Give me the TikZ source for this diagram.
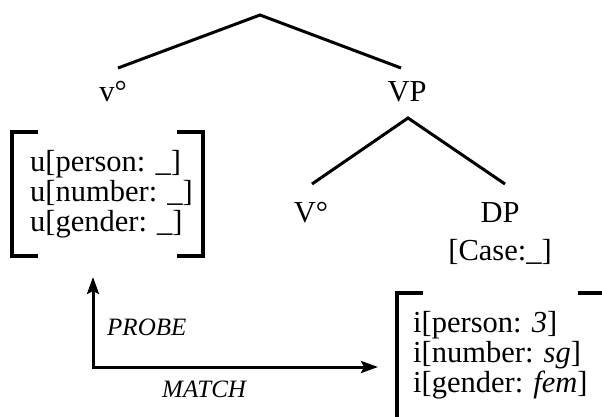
\documentclass[tikz,border=0pt]{standalone}
\usepackage{fontspec}
\setmainfont{Liberation Serif}
\usetikzlibrary{arrows.meta}
\tikzset{
  branch/.style={line width=3pt},
  brack/.style={line width=3.2pt},
  lab/.style={inner sep=0pt, anchor=base, font=\fontsize{30.5}{30}\selectfont},
  feat/.style={inner sep=0pt, anchor=base west, font=\fontsize{30.5}{30}\selectfont},
  arrowlab/.style={inner sep=0pt, anchor=base west, font=\fontsize{25}{25}\selectfont\itshape},
  relation/.style={line width=3pt, {Stealth[length=17pt,width=12pt,inset=3pt]}-{Stealth[length=17pt,width=12pt,inset=3pt]}}
}
\begin{document}
\begin{tikzpicture}[x=1pt,y=-1pt]
\useasboundingbox (0,0) rectangle (602,416);

% upper tree
\coordinate (root) at (260,15);
\coordinate (vEnd) at (118,68);
\coordinate (vpEnd) at (401,68);
\node[lab] (v) at (113,101) {v°};
\node[lab] (VP) at (407,101) {VP};
\draw[branch] (vEnd) -- (root) -- (vpEnd);

% lower tree
\coordinate (vpTop) at (408,118);
\coordinate (VEnd) at (312,184);
\coordinate (dpEnd) at (505,184);
\node[lab] (V) at (311,222) {V°};
\node[lab] (DP) at (500,222) {DP};
\node[lab] (case) at (500,260) {[Case:\_]};
\draw[branch] (VEnd) -- (vpTop) -- (dpEnd);

% uninterpretable features on v
\node[feat] (u1) at (30,171) {u[person: \_]};
\node[feat] (u2) at (30,201) {u[number: \_]};
\node[feat] (u3) at (30,231) {u[gender: \_]};
\draw[brack] (38,132) -- (12,132) -- (12,256) -- (38,256);
\draw[brack] (177,132) -- (203,132) -- (203,256) -- (177,256);

% interpretable features on DP
\node[feat] (i1) at (413,332) {i[person: \textit{3}]};
\node[feat] (i2) at (413,362) {i[number: \textit{sg}]};
\node[feat] (i3) at (413,392) {i[gender: \textit{fem}]};
\draw[brack] (423,293) -- (397,293) -- (397,430);
\draw[brack] (578,293) -- (612,293);

% probe and match
\coordinate (probeTip) at (93,277);
\coordinate (matchTip) at (378,367);
\draw[relation] (probeTip) |- (matchTip);
\node[arrowlab] (probe) at (107,335) {PROBE};
\node[arrowlab] (match) at (162,397) {MATCH};
\end{tikzpicture}
\end{document}
